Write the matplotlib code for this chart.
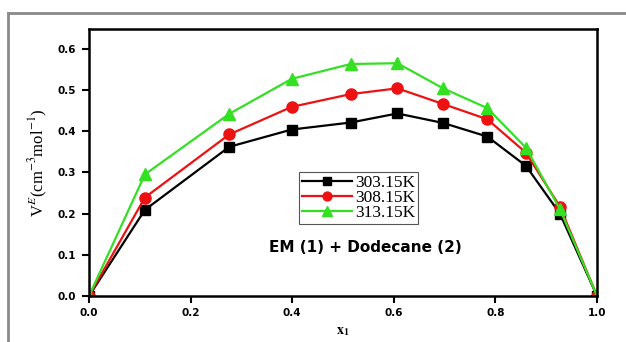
import matplotlib.pyplot as plt
from matplotlib.lines import Line2D

plt.rcParams['mathtext.fontset'] = 'stix'

x1 = [0.0, 0.110, 0.276, 0.399, 0.515, 0.607, 0.697, 0.784, 0.860, 0.927, 1.0]
v_303 = [0.0, 0.209, 0.362, 0.404, 0.421, 0.443, 0.420, 0.387, 0.316, 0.200, 0.0]
v_308 = [0.0, 0.239, 0.392, 0.459, 0.490, 0.504, 0.466, 0.429, 0.348, 0.217, 0.0]
v_313 = [0.0, 0.295, 0.442, 0.527, 0.563, 0.565, 0.504, 0.456, 0.360, 0.211, 0.0]

xticks = [0.0, 0.2, 0.4, 0.6, 0.8, 1.0]
yticks = [0.0, 0.1, 0.2, 0.3, 0.4, 0.5, 0.6]

fig = plt.figure(figsize=(6.26, 3.42), dpi=100)
ax = fig.add_axes([89 / 626, 1 - 296 / 342, 508 / 626, 267 / 342])

# grey frame round the figure (top and left)
fig.add_artist(Line2D([8 / 626, 1.0], [1 - 13 / 342, 1 - 13 / 342], color='#8a8a8a', lw=2))
fig.add_artist(Line2D([8 / 626, 8 / 626], [0.0, 1 - 13 / 342], color='#8a8a8a', lw=2))

ax.plot(x1, v_303, color='black', marker='s', ms=7, lw=1.6, label='303.15K')
ax.plot(x1, v_308, color='#ee1111', marker='o', ms=8, lw=1.6, label='308.15K')
ax.plot(x1, v_313, color='#33e022', marker='^', ms=8.5, lw=1.6, label='313.15K')

ax.set_xlim(0, 1.0)
ax.set_ylim(0, 0.648)
ax.set_xticks(xticks)
ax.set_yticks(yticks)
ax.set_xticklabels(['%.1f' % t for t in xticks], fontweight='bold', fontsize=7.5, family='DejaVu Sans')
ax.set_yticklabels(['%.1f' % t for t in yticks], fontweight='bold', fontsize=7.5, family='DejaVu Sans')
ax.tick_params(direction='out', length=5, width=1.5, pad=4)
for s in ax.spines.values():
    s.set_linewidth(1.8)

ax.set_xlabel(r'$\mathbf{x}_\mathbf{1}$', fontsize=10, labelpad=4)
ax.set_ylabel(r'V$^E$(cm$^{-3}$mol$^{-1}$)', fontsize=12, family='Liberation Serif', labelpad=6)

leg = ax.legend(loc='upper left', bbox_to_anchor=(210 / 508, (296 - 172) / 267),
                prop={'family': 'Liberation Serif', 'size': 12.5},
                fancybox=False, edgecolor='#555555', framealpha=1,
                handlelength=2.9, handletextpad=0.2, borderpad=0.15, labelspacing=-0.05,
                borderaxespad=0, markerscale=0.8)
leg.get_frame().set_linewidth(0.8)

ax.text(0.545, 0.18, 'EM (1) + Dodecane (2)', transform=ax.transAxes, ha='center', va='center',
        fontsize=11, fontweight='bold', family='DejaVu Sans')

fig.savefig('out.png', dpi=100)
